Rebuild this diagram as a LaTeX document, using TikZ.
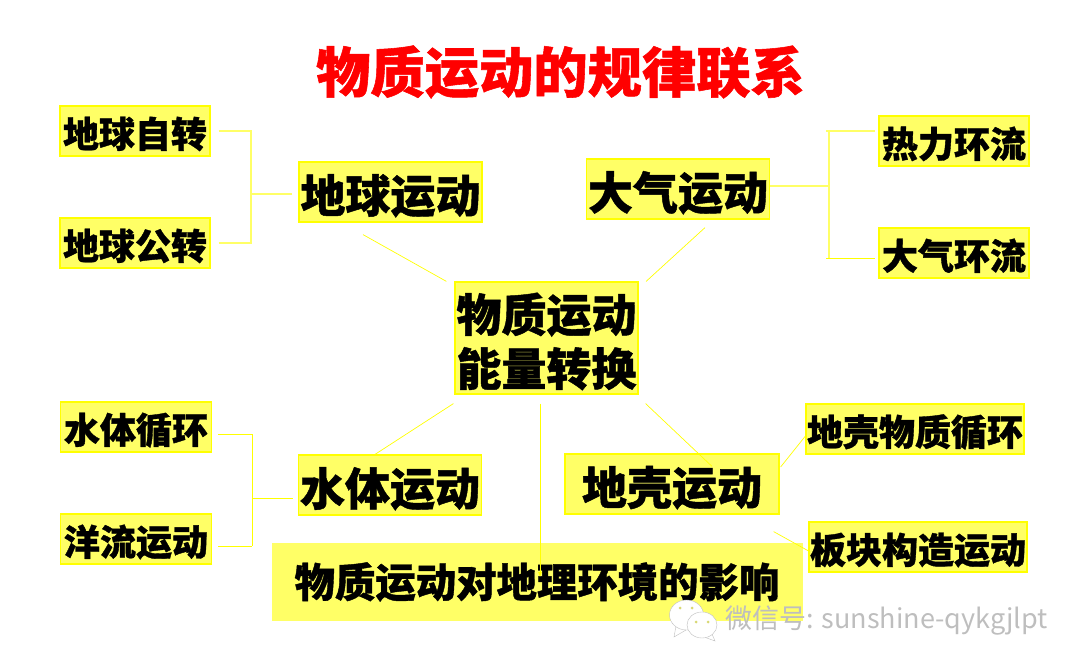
\documentclass[tikz,border=0pt]{standalone}
\usepackage{fontspec}
\setmainfont{Noto Sans CJK SC}[BoldFeatures={FakeBold=1}]
\usetikzlibrary{arrows.meta,positioning,calc}
\definecolor{cBox}{HTML}{FFFF66}
\definecolor{cEdge}{HTML}{FFFF00}
\definecolor{cMark}{HTML}{BEBEBE}

\begin{document}
\begin{tikzpicture}[
    x=1pt, y=-1pt,
    leafbox/.style={draw=cEdge, line width=1.2pt, fill=cBox, inner sep=0pt, minimum width=150pt, minimum height=50pt, text height=38pt, text depth=5pt, font=\fontsize{36}{40}\selectfont\bfseries},
    topicbox/.style={draw=cEdge, line width=1.2pt, fill=cBox, inner sep=0pt, minimum width=183pt, minimum height=60pt, text height=47pt, text depth=6pt, font=\fontsize{45}{54}\selectfont\bfseries},
    lnk/.style={draw=cEdge, line width=0.7pt},
    lnkpale/.style={draw=cBox, line width=1.2pt},
    arr/.style={-{Latex[length=5pt,width=4pt]}, draw=cEdge, line width=0.7pt}
]
\useasboundingbox (0,0) rectangle (1080,671);

\node[font=\fontsize{54.3}{60}\selectfont\bfseries, text=red] (title) at (560.5,72) {物质运动的规律联系};

% left and right leaves
\node[leafbox] (spin) at (135,131) {地球自转};
\node[leafbox] (orbit) at (135,243) {地球公转};
\node[leafbox] (thermal) at (954,141) {热力环流};
\node[leafbox] (aircirc) at (954,253) {大气环流};
\node[leafbox, minimum width=151pt] (watercyc) at (136,427) {水体循环};
\node[leafbox, minimum width=151pt] (ocean) at (136,539) {洋流运动};
\node[leafbox, minimum width=218pt] (rockcyc) at (915,429) {地壳物质循环};
\node[leafbox, minimum width=218pt] (plate) at (918,547) {板块构造运动};

% topics
\node[topicbox] (earth) at (390.5,192) {地球运动};
\node[topicbox] (air) at (678,189) {大气运动};
\node[topicbox] (water) at (390,485) {水体运动};
\node[topicbox, minimum width=214pt] (crust) at (672,484) {地壳运动};
\node[topicbox, text height=, text depth=, align=center, minimum height=112pt] (core) at (546.5,338) {\rule{0pt}{46pt}物质运动\\能量转换};
\node[draw=cBox, line width=1pt, fill=cBox, inner sep=0pt, minimum width=530pt, minimum height=77pt, font=\fontsize{40.4}{46}\selectfont\bfseries] (effect) at (537,582) {物质运动对地理环境的影响};

\coordinate (jEarth) at (251,194);
\coordinate (jAirUp) at (829,131);
\coordinate (jAirDown) at (829,258);
\coordinate (jAir) at (829,186);
\coordinate (jWaterUp) at (252,434);
\coordinate (jWaterDown) at (252,546);
\coordinate (jWater) at (252,498);

\draw[lnkpale, shorten <=8pt] (spin.east) -| (jEarth);
\draw[lnkpale, shorten <=8pt] (orbit.east) -| (jEarth);
\draw[lnkpale, shorten >=6pt] (jEarth) -- (jEarth -| earth.west);

\draw[lnkpale] (air.east |- jAir) -- (jAir);
\draw[lnkpale] (jAirUp) -- (jAirDown);
\draw[lnkpale, shorten <=-3pt, shorten >=3pt] (jAirUp) -- (jAirUp -| thermal.west);
\draw[lnk, shorten <=-3pt, shorten >=3pt] (jAirDown) -- (jAirDown -| aircirc.west);

\draw[lnk, shorten <=6pt] (watercyc.east |- jWaterUp) -- (jWaterUp);
\draw[lnk, shorten <=6pt] (ocean.east |- jWaterDown) -- (jWaterDown);
\draw[lnk] (jWaterUp) -- (jWaterDown);
\draw[lnk, shorten >=5pt] (jWater) -- (jWater -| water.west);

\draw[lnk] ($(earth.south)+(-27.5,12)$) -- ($(core.north west)+(-8,0)$);
\draw[lnk] ($(air.south)+(27,8)$) -- ($(core.north east)+(7.5,0)$);
\draw[lnk] ($(core.south west)+(-1,9)$) -- ($(water.north)+(-15,0)$);
\draw[lnk] ($(core.south east)+(7,9)$) -- ($(crust.north)+(40,13)$);
\draw[arr] ($(core.south)+(-6.5,9)$) -- ($(effect.north)+(3,34)$);
\draw[lnk] ($(crust.east)+(1,-17)$) -- ($(rockcyc.west)+(0,7)$);
\draw[lnk] ($(crust.south east)+(-6,17)$) -- ($(plate.west)+(2,5)$);

% watermark
\draw[draw=black!25, fill=white] (676,626) -- (674,637) -- (686,630) -- cycle;
\draw[draw=black!25, fill=white] (686.5,615) ellipse (17pt and 15pt);
\draw[draw=black!25, fill=white] (712,634) -- (715,641) -- (704,637) -- cycle;
\draw[draw=black!25, fill=white] (702,625) ellipse (15pt and 13pt);
\foreach \ex/\ey in {680/608, 692/608, 696/622, 708/622} {
    \fill[cMark!60!cEdge] (\ex,\ey) circle (1.5pt);
}
\node[anchor=west, inner sep=0pt, text=cMark, font=\fontsize{27}{30}\selectfont] (mark) at (725,621) {微信号: sunshine-qykgjlpt};

\end{tikzpicture}
\end{document}
